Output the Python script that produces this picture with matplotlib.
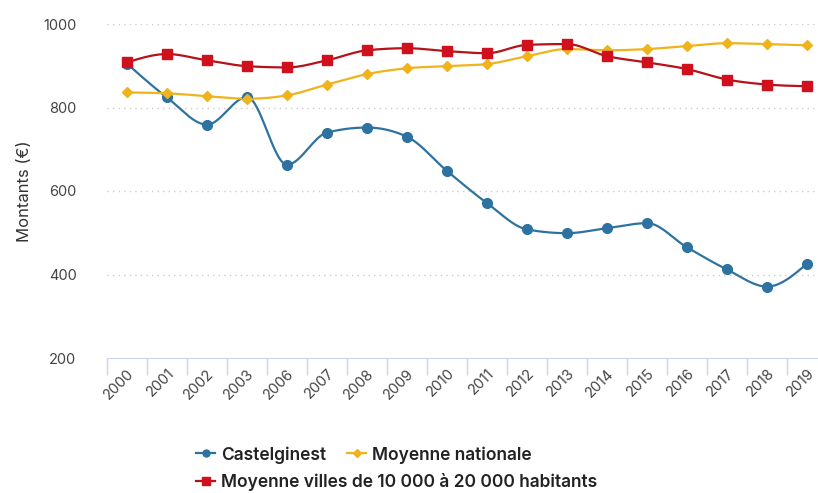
import numpy as np
import matplotlib
matplotlib.use("Agg")
import matplotlib.pyplot as plt
from matplotlib.lines import Line2D

plt.rcParams['font.family'] = ['Inter', 'DejaVu Sans']

# données
years = ["2000", "2001", "2002", "2003", "2006", "2007", "2008", "2009", "2010",
         "2011", "2012", "2013", "2014", "2015", "2016", "2017", "2018", "2019"]
castelginest = [905, 824, 759, 825, 663, 740, 752, 730, 648,
                571, 508, 499, 511, 523, 465, 412, 371, 426]
moyenne_nationale = [836, 834, 827, 821, 829, 855, 880, 894, 899,
                     904, 923, 940, 937, 940, 947, 954, 952, 949]
moyenne_villes = [908, 928, 913, 899, 896, 913, 937, 942, 935,
                  930, 950, 952, 923, 908, 892, 867, 855, 851]


def monotone(y, n=20):
    # courbe monotone (type d3 curveMonotoneX), pas de 1
    y = np.asarray(y, dtype=float)
    s = np.diff(y)
    t = np.zeros_like(y)
    for i in range(1, len(y) - 1):
        s0, s1 = s[i - 1], s[i]
        p = (s0 + s1) / 2
        t[i] = (np.sign(s0) + np.sign(s1)) * min(abs(s0), abs(s1), 0.5 * abs(p))
    t[0] = (3 * s[0] - t[1]) / 2
    t[-1] = (3 * s[-1] - t[-2]) / 2
    xs, ys = [], []
    u = np.linspace(0, 1, n, endpoint=False)
    for i in range(len(y) - 1):
        h00 = 2 * u**3 - 3 * u**2 + 1
        h10 = u**3 - 2 * u**2 + u
        h01 = -2 * u**3 + 3 * u**2
        h11 = u**3 - u**2
        xs.append(i + u)
        ys.append(h00 * y[i] + h10 * t[i] + h01 * y[i + 1] + h11 * t[i + 1])
    xs.append([len(y) - 1])
    ys.append([y[-1]])
    return np.concatenate(xs), np.concatenate(ys)


fig = plt.figure(figsize=(8.18, 4.93), dpi=100)
ax = fig.add_axes([107 / 818, 1 - 358 / 493, 720 / 818, 334 / 493])

x = np.arange(len(years))
series = [
    (castelginest, '#2e72a0', '#2e72a0', 'o', 7, 5, "Castelginest"),
    (moyenne_nationale, '#f0b31c', '#f0b31c', 'D', 5, 4, "Moyenne nationale"),
    (moyenne_villes, '#b5121b', '#d0101c', 's', 7.5, 6, "Moyenne villes de 10 000 à 20 000 habitants"),
]
handles = []
for vals, lc, mc, mk, ms, lms, lab in series:
    cx, cy = monotone(vals)
    ax.plot(cx, cy, color=lc, lw=1.6, zorder=3)
    ax.plot(x, vals, ls='none', marker=mk, ms=ms, color=mc, zorder=4)
    handles.append(Line2D([], [], color=lc, lw=1.6, marker=mk, ms=lms,
                          markerfacecolor=mc, markeredgecolor=mc, label=lab))

ax.set_xlim(-0.5, len(years) - 0.5)
ax.set_ylim(200, 1000)
ax.set_yticks([200, 400, 600, 800, 1000])
ax.set_xticks(x)
ax.set_xticklabels(years, rotation=45, ha='right', rotation_mode='anchor')
ax.set_xticks(np.arange(len(years) + 1) - 0.5, minor=True)
ax.tick_params(axis='x', which='major', length=0, pad=6, labelsize=10.5, labelcolor='#444444')
ax.tick_params(axis='x', which='minor', length=12, color='#ccd6eb', width=1)
ax.tick_params(axis='y', length=0, pad=22, labelsize=10.5, labelcolor='#444444')

for v in [400, 600, 800, 1000]:
    ax.axhline(v, color='#cccccc', lw=1, ls=(0, (1, 3)), zorder=1)

for sp in ['top', 'right', 'left']:
    ax.spines[sp].set_visible(False)
ax.spines['bottom'].set_color('#ccd6eb')

ax.set_ylabel("Montants (€)", fontsize=12, color='#333333', labelpad=8)

fig.legend(handles=handles[:2], ncol=2, loc='upper left',
           bbox_to_anchor=(196 / 818, 1 - 446 / 493), frameon=False,
           fontsize=12.5, handlelength=1.1, handletextpad=0.35,
           columnspacing=1.2, borderaxespad=0, borderpad=0)
fig.legend(handles=handles[2:], loc='upper left',
           bbox_to_anchor=(196 / 818, 1 - 473 / 493), frameon=False,
           fontsize=12.5, handlelength=1.1, handletextpad=0.35,
           borderaxespad=0, borderpad=0)
for leg in fig.legends:
    for t in leg.get_texts():
        t.set_color('#222222')
        t.set_fontweight('semibold')

fig.savefig("out.png", dpi=100)
